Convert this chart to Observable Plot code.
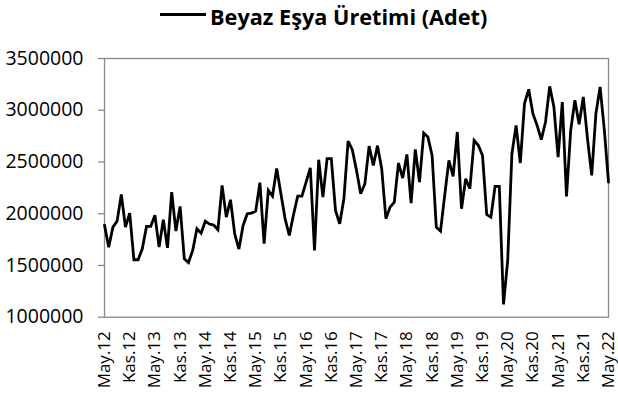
<!DOCTYPE html>
<html>
<head>
<meta charset="utf-8">
<script src="https://cdn.jsdelivr.net/npm/d3@7"></script>
<script src="https://cdn.jsdelivr.net/npm/@observablehq/plot@0.6"></script>
<style>
  body { margin: 0; background: #fff; font-family: "Open Sans", sans-serif; }
  #head { position: relative; width: 618px; height: 40px; }
  #swatch { position: absolute; left: 160px; top: 13px; width: 46px; height: 3px; background: #000; }
  #title { position: absolute; left: 210px; top: 6px; font-size: 21.7px; line-height: 22px; font-weight: 700; color: #000; white-space: nowrap; }
</style>
</head>
<body>
<div id="head"><div id="swatch"></div><div id="title">Beyaz Eşya Üretimi (Adet)</div></div>
<div id="chart"></div>
<script>
const seriesName = "Beyaz Eşya Üretimi (Adet)";
// Monthly values, May 2012 .. May 2022 (121 months)
const values = [
  1890000, 1677000, 1870000, 1928000, 2187000, 1870000, 2006000, 1555000, 1555000, 1661000,
  1877000, 1877000, 1986000, 1677000, 1942000, 1670000, 2209000, 1832000, 2071000, 1565000,
  1529000, 1645000, 1855000, 1812000, 1928000, 1900000, 1890000, 1845000, 2274000, 1967000,
  2135000, 1806000, 1658000, 1887000, 2000000, 2006000, 2025000, 2300000, 1710000, 2225000,
  2170000, 2438000, 2193000, 1951000, 1790000, 1990000, 2170000, 2170000, 2306000, 2444000,
  1645000, 2522000, 2160000, 2532000, 2532000, 2032000, 1903000, 2145000, 2702000, 2619000,
  2419000, 2193000, 2290000, 2654000, 2467000, 2658000, 2435000, 1952000, 2064000, 2112000,
  2490000, 2344000, 2573000, 2103000, 2622000, 2306000, 2780000, 2741000, 2564000, 1870000,
  1832000, 2177000, 2516000, 2361000, 2790000, 2048000, 2338000, 2242000, 2709000, 2661000,
  2564000, 1993000, 1967000, 2264000, 2264000, 1123000, 1548000, 2580000, 2854000, 2490000,
  3064000, 3202000, 2967000, 2854000, 2716000, 2886000, 3231000, 3031000, 2547000, 3079000,
  2167000, 2806000, 3096000, 2864000, 3128000, 2725000, 2370000, 2967000, 3225000, 2812000,
  2306000
];
// Category tick labels, every 6 months
const tickLabels = [
  "May.12", "Kas.12", "May.13", "Kas.13", "May.14", "Kas.14", "May.15", "Kas.15",
  "May.16", "Kas.16", "May.17", "Kas.17", "May.18", "Kas.18", "May.19", "Kas.19",
  "May.20", "Kas.20", "May.21", "Kas.21", "May.22"
];
const yTicks = [1000000, 1500000, 2000000, 2500000, 3000000, 3500000];

const data = values.map((v, i) => ({i, v}));
const tickIdx = tickLabels.map((_, k) => k * 6);

const plot = Plot.plot({
  width: 618,
  height: 363,
  marginLeft: 104,
  marginRight: 10,
  marginTop: 18,
  marginBottom: 86.3,
  style: { fontFamily: "Open Sans, sans-serif", fontSize: "18px", color: "#000", background: "#fff" },
  x: { domain: [0, values.length - 1] },
  y: { domain: [1000000, 3500000] },
  marks: [
    Plot.frame({ stroke: "#888", strokeWidth: 1.3 }),
    Plot.axisY({ ticks: yTicks, tickFormat: d => String(d), tickSize: 6, tickPadding: 15, fontSize: 19.5, stroke: "#888", strokeWidth: 1.3, label: null, fill: "#000" }),
    Plot.axisX({ ticks: tickIdx, tickFormat: d => tickLabels[d / 6], tickSize: 0, tickPadding: 14, tickRotate: -90, fontSize: 17, label: null, fill: "#000" }),
    Plot.line(data, { x: "i", y: "v", stroke: "#000", strokeWidth: 2.8, strokeLinejoin: "miter", strokeMiterlimit: 3 })
  ]
});
document.getElementById("chart").appendChild(plot);
</script>
</body>
</html>
